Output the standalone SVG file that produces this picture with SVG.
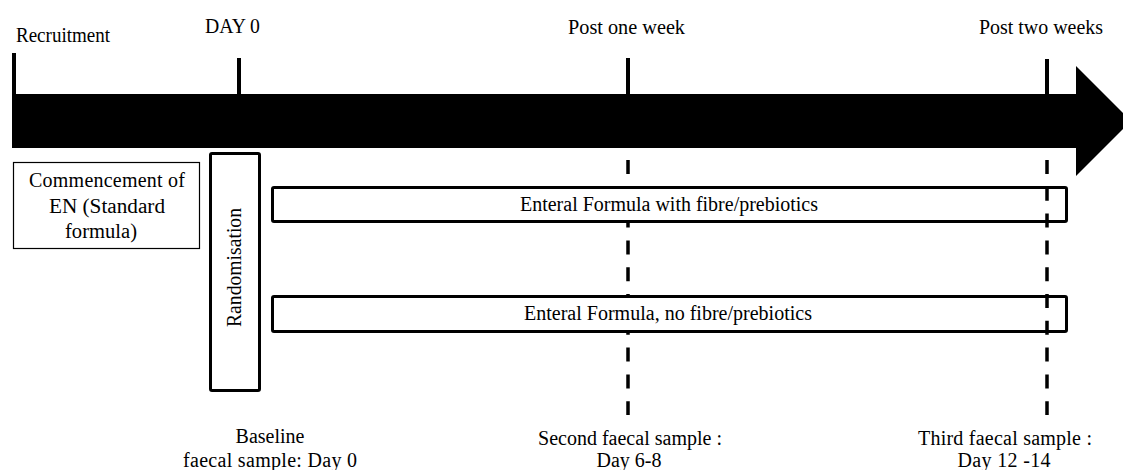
<svg xmlns="http://www.w3.org/2000/svg" width="1123" height="470" viewBox="0 0 1123 470">
  <style>
    text { font-family: "Liberation Serif", "Times New Roman", serif; font-size: 20px; fill: #000; }
    .mid { text-anchor: middle; }
    .thick { fill: #fff; stroke: #000; stroke-width: 3; }
    .thin { fill: #fff; stroke: #000; stroke-width: 1.2; }
    .dash { fill: none; stroke: #000; stroke-width: 3.5; stroke-dasharray: 14 12.8; }
  </style>
  <rect width="1123" height="470" fill="#fff"/>

  <g id="timeline">
    <rect x="12" y="94" width="1065" height="54" fill="#000"/>
    <polygon points="1076,66 1131,121 1076,176" fill="#000"/>
    <rect x="12" y="53" width="4" height="42" fill="#000"/>
    <rect x="237" y="58" width="4" height="37" fill="#000"/>
    <rect x="626" y="58" width="4" height="37" fill="#000"/>
    <rect x="1045" y="59" width="4" height="36" fill="#000"/>
  </g>

  <g id="labels-top">
    <text x="16" y="42" textLength="94" lengthAdjust="spacingAndGlyphs">Recruitment</text>
    <text x="205" y="33" textLength="55" lengthAdjust="spacingAndGlyphs">DAY 0</text>
    <text x="568" y="34" textLength="117" lengthAdjust="spacingAndGlyphs">Post one week</text>
    <text x="979" y="34" textLength="124" lengthAdjust="spacingAndGlyphs">Post two weeks</text>
  </g>

  <g id="connectors">
    <line class="dash" x1="628" y1="160" x2="628" y2="415"/>
  </g>

  <g id="commencement">
    <rect class="thin" x="13.5" y="162.5" width="186" height="86"/>
    <text x="29" y="187" textLength="156" lengthAdjust="spacing">Commencement of</text>
    <text class="mid" x="107" y="213" textLength="116" lengthAdjust="spacingAndGlyphs">EN (Standard</text>
    <text class="mid" x="101" y="238" textLength="72" lengthAdjust="spacingAndGlyphs">formula)</text>
  </g>

  <g id="randomisation">
    <rect class="thick" x="210.5" y="153.5" width="49" height="237" rx="1.5"/>
    <text class="mid" transform="translate(241,267.5) rotate(-90)" textLength="119" lengthAdjust="spacingAndGlyphs">Randomisation</text>
  </g>

  <g id="formula-fibre">
    <rect class="thick" x="272.5" y="187.5" width="794" height="34" rx="1.5"/>
    <text class="mid" x="669" y="211" textLength="298" lengthAdjust="spacingAndGlyphs">Enteral Formula  with fibre/prebiotics</text>
  </g>

  <g id="formula-nofibre">
    <rect class="thick" x="272.5" y="296.5" width="794" height="35" rx="1.5"/>
    <text class="mid" x="668" y="320" textLength="288" lengthAdjust="spacingAndGlyphs">Enteral Formula,  no fibre/prebiotics</text>
  </g>

  <g id="connectors-2">
    <line class="dash" x1="1047" y1="160" x2="1047" y2="415"/>
  </g>

  <g id="sample-baseline">
    <text class="mid" x="270" y="443">Baseline</text>
    <text class="mid" x="270" y="467" textLength="174" lengthAdjust="spacing">faecal sample:  Day 0</text>
  </g>
  <g id="sample-second">
    <text class="mid" x="630" y="445" textLength="184" lengthAdjust="spacing">Second faecal sample :</text>
    <text class="mid" x="629" y="467">Day 6-8</text>
  </g>
  <g id="sample-third">
    <text class="mid" x="1005" y="445" textLength="174" lengthAdjust="spacing">Third faecal sample :</text>
    <text class="mid" x="1004" y="467" textLength="93" lengthAdjust="spacing">Day 12 -14</text>
  </g>
</svg>
